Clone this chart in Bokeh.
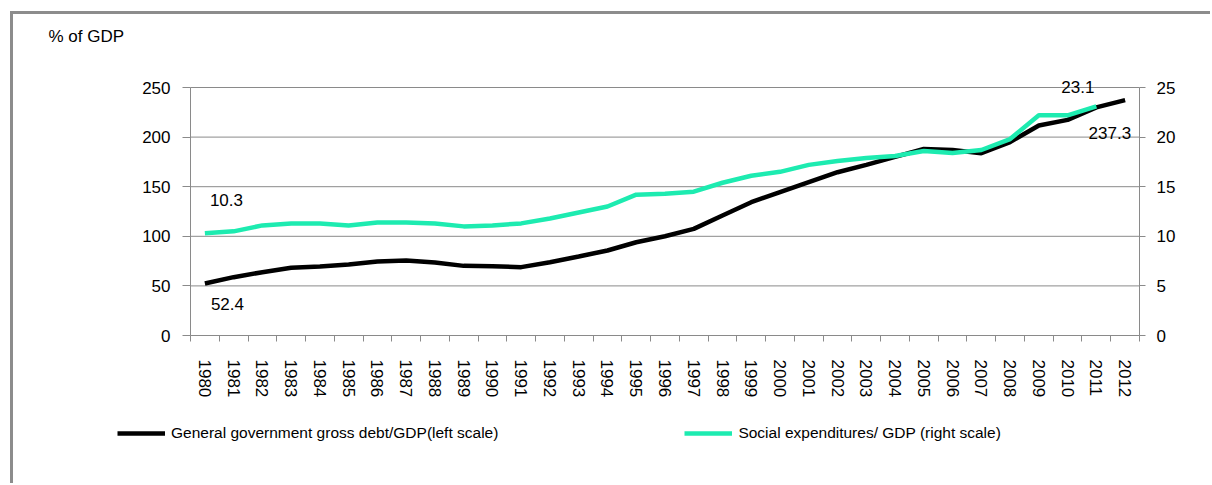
from bokeh.plotting import figure
from bokeh.models import Range1d, LinearAxis, FixedTicker, Label, Legend, LegendItem
from bokeh.embed import file_html
from bokeh.resources import INLINE

years = list(range(1980, 2013))
debt = [52.4, 58.8, 63.8, 68.2, 69.5, 71.5, 74.6, 75.6, 73.6, 70.2, 69.9, 68.9,
        73.9, 79.6, 85.7, 94.0, 100.0, 107.5, 121.0, 134.4, 144.5, 154.6, 164.6,
        172.0, 180.0, 188.0, 187.0, 183.8, 195.0, 211.7, 217.4, 230.0, 237.3]
social_years = list(range(1980, 2012))
social = [10.3, 10.5, 11.1, 11.3, 11.3, 11.1, 11.4, 11.4, 11.3, 11.0, 11.1, 11.3,
          11.8, 12.4, 13.0, 14.2, 14.3, 14.5, 15.4, 16.1, 16.5, 17.2, 17.6, 17.9,
          18.1, 18.6, 18.4, 18.7, 19.8, 22.2, 22.2, 23.1]
left_ticks = [0, 50, 100, 150, 200, 250]
right_ticks = [0, 5, 10, 15, 20, 25]
debt_label = "General government gross debt/GDP(left scale)"
social_label = "Social expenditures/ GDP (right scale)"
y_title = "% of GDP"

GRAY = "#8a8a8a"
GREEN = "#1DEBB0"
FONT = "Liberation Sans"

# canvas layout (px): the plot frame covers the whole canvas, the data area sits inside
W, H = 1210, 483
AL, AR, AT, AB = 190, 1139, 87, 335
x0, x1 = years[0] - 0.5, years[-1] + 0.5
y0, y1 = left_ticks[0], left_ticks[-1]
r0, r1 = right_ticks[0], right_ticks[-1]
xs = (AR - AL) / (x1 - x0)
ys = (AB - AT) / (y1 - y0)
k = (r1 - r0) / (y1 - y0)

p = figure(width=W, height=H, output_backend="svg", toolbar_location=None,
           x_range=Range1d(x0 - AL / xs, x1 + (W - AR) / xs),
           y_range=Range1d(y0 - (H - AB) / ys, y1 + AT / ys),
           min_border=0, x_axis_location=None, y_axis_location=None)
p.extra_y_ranges = {"right": Range1d(r0 - k * (H - AB) / ys, r1 + k * AT / ys)}
p.outline_line_color = None
p.background_fill_alpha = 0
p.border_fill_alpha = 0
p.xgrid.visible = False
p.ygrid.visible = False
# outer frame: only its top and left edges fall inside the window
p.styles = {"background": (
    "linear-gradient(#8c8c8c,#8c8c8c) 10px 11px / 3px calc(100% - 11px) no-repeat, "
    "linear-gradient(#8c8c8c,#8c8c8c) 10px 11px / calc(100% - 10px) 3px no-repeat, white")}

# horizontal grid lines at the left-axis ticks
p.segment(x0=[x0] * len(left_ticks), x1=[x1] * len(left_ticks), y0=left_ticks, y1=left_ticks,
          line_color=GRAY, line_width=1)

# x axis
xa = LinearAxis(fixed_location=y0, bounds=(x0, x1),
                ticker=FixedTicker(ticks=years,
                                   minor_ticks=[y - 0.5 for y in years] + [x1]))
xa.axis_line_color = GRAY
xa.major_tick_out = 0
xa.major_tick_in = 0
xa.minor_tick_out = 6
xa.minor_tick_in = 0
xa.minor_tick_line_color = GRAY
xa.major_label_orientation = "vertical"
xa.major_label_standoff = 18
xa.major_label_text_font = FONT
xa.major_label_text_font_size = "17px"
xa.major_label_text_color = "black"
p.add_layout(xa, "below")

# left axis
ya = LinearAxis(fixed_location=x0, bounds=(y0, y1), ticker=FixedTicker(ticks=left_ticks))
ya.axis_line_color = GRAY
ya.major_tick_out = 8
ya.major_tick_in = 0
ya.major_tick_line_color = GRAY
ya.minor_tick_line_color = None
ya.major_label_standoff = 12
ya.major_label_text_font = FONT
ya.major_label_text_font_size = "17px"
ya.major_label_text_color = "black"
p.add_layout(ya, "left")

# right axis
yr = LinearAxis(y_range_name="right", fixed_location=x1, bounds=(r0, r1),
                ticker=FixedTicker(ticks=right_ticks))
yr.axis_line_color = GRAY
yr.major_tick_out = 6
yr.major_tick_in = 0
yr.major_tick_line_color = GRAY
yr.minor_tick_line_color = None
yr.major_label_standoff = 11
yr.major_label_text_font = FONT
yr.major_label_text_font_size = "17px"
yr.major_label_text_color = "black"
p.add_layout(yr, "right")

r_debt = p.line(years, debt, line_color="black", line_width=4.5)
r_soc = p.line(social_years, social, line_color=GREEN, line_width=4.5, y_range_name="right")

lab_kw = dict(text_font=FONT, text_font_size="17px", text_color="black",
              text_baseline="middle")
p.add_layout(Label(x=social_years[0], y=social[0], y_range_name="right", text=f"{social[0]}",
                   x_offset=5, y_offset=33, text_align="left", **lab_kw))
p.add_layout(Label(x=years[0], y=debt[0], text=f"{debt[0]}",
                   x_offset=6, y_offset=-20, text_align="left", **lab_kw))
p.add_layout(Label(x=social_years[-1], y=social[-1], y_range_name="right", text=f"{social[-1]}",
                   x_offset=-2, y_offset=19, text_align="right", **lab_kw))
p.add_layout(Label(x=years[-1], y=debt[-1], text=f"{debt[-1]}",
                   x_offset=6, y_offset=-33, text_align="right", **lab_kw))
p.add_layout(Label(x=x0, y=y1, text=y_title, x_offset=-142, y_offset=51,
                   text_align="left", **lab_kw))

legend = Legend(items=[LegendItem(label=debt_label, renderers=[r_debt]),
                       LegendItem(label=social_label, renderers=[r_soc])],
                orientation="horizontal", spacing=186, location=(117, 40),
                glyph_width=48, glyph_height=20, label_height=20, label_standoff=6,
                padding=0, margin=0, border_line_color=None, background_fill_alpha=0,
                label_text_font=FONT, label_text_font_size="15.5px",
                label_text_color="black")
p.add_layout(legend, "center")

open("out.html", "w").write(file_html(p, INLINE))
